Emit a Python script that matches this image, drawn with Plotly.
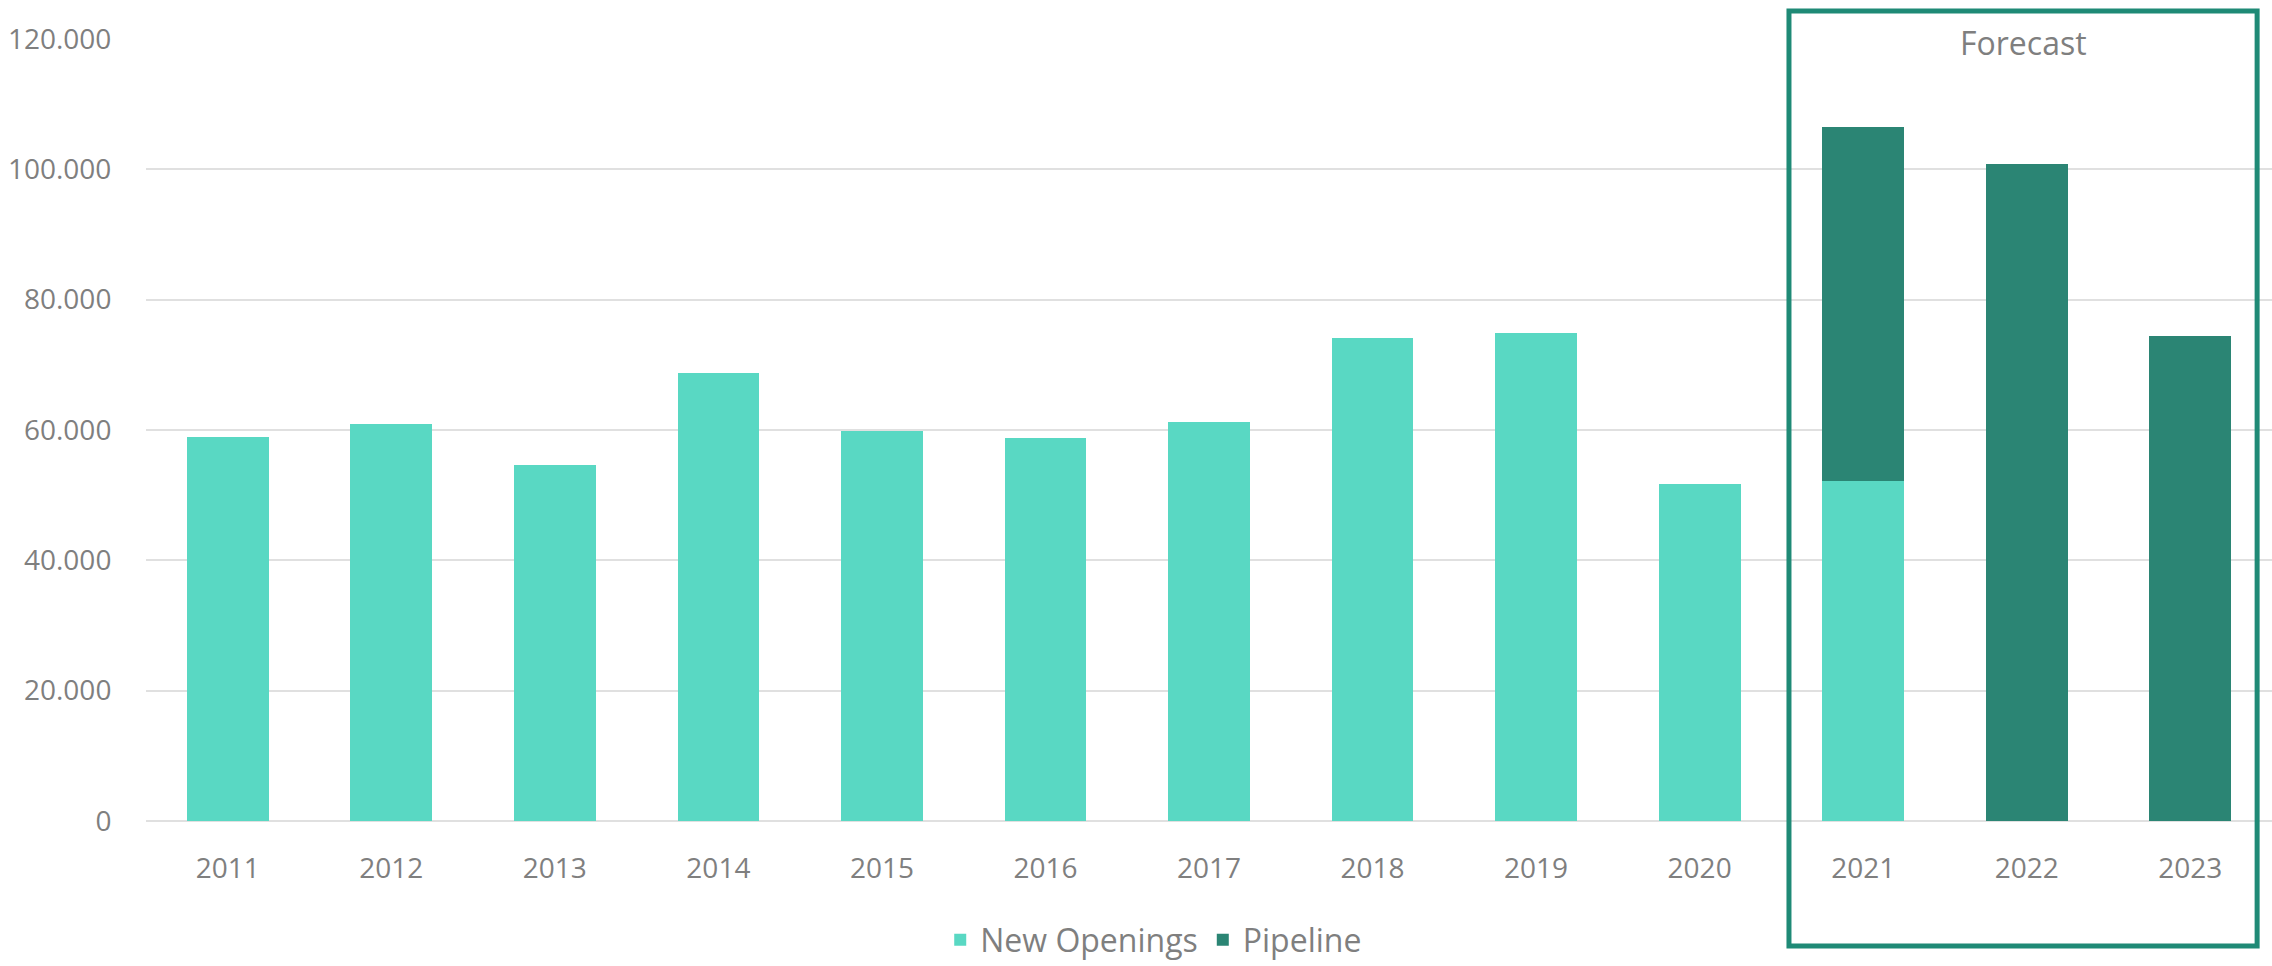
import plotly.graph_objects as go

years = ['2011', '2012', '2013', '2014', '2015', '2016', '2017',
         '2018', '2019', '2020', '2021', '2022', '2023']
new_openings = [59000, 60900, 54600, 68700, 59800, 58700, 61300,
                74100, 74900, 51700, 52200, None, None]
pipeline = [None, None, None, None, None, None, None,
            None, None, None, 54300, 100800, 74400]

light_teal = '#59d8c3'
dark_teal = '#2b8574'
box_green = '#1f8a76'
grey_text = '#7f7f7f'

fig = go.Figure()

fig.add_trace(go.Bar(x=years, y=new_openings, name='New Openings',
                     marker=dict(color=light_teal, line=dict(width=0))))
fig.add_trace(go.Bar(x=years, y=pipeline, name='Pipeline',
                     marker=dict(color=dark_teal, line=dict(width=0))))

# forecast frame around 2021-2023
fig.add_shape(type='rect', xref='paper', yref='paper',
              x0=0.7728, x1=0.9930, y0=-0.1598, y1=1.0358,
              line=dict(color=box_green, width=5), layer='above')

fig.add_annotation(text='Forecast', xref='paper', yref='paper',
                   x=0.883, y=0.995, xanchor='center', yanchor='middle',
                   showarrow=False,
                   font=dict(size=32, color=grey_text))

fig.update_layout(
    width=2272, height=966,
    barmode='stack', bargap=0.5,
    separators=',.',
    plot_bgcolor='white', paper_bgcolor='white',
    font=dict(family='Open Sans', color=grey_text),
    margin=dict(l=146, r=0, t=39, b=145, autoexpand=False),
    showlegend=True,
    legend=dict(orientation='h', xanchor='center', yanchor='middle',
                x=0.474, y=-0.152, font=dict(size=32, color=grey_text),
                traceorder='normal'),
    xaxis=dict(range=[-0.5, 12.5],
               tickfont=dict(size=28, color=grey_text), showgrid=False,
               showline=False, ticks='outside', ticklen=22,
               tickcolor='rgba(0,0,0,0)'),
    yaxis=dict(range=[0, 120000], dtick=20000, tickformat=',d',
               tickfont=dict(size=28, color=grey_text),
               gridcolor='#e0e0e0', gridwidth=1.5,
               zeroline=True, zerolinecolor='#e0e0e0', zerolinewidth=1.5,
               showline=False, ticks='outside', ticklen=28,
               tickcolor='rgba(0,0,0,0)'),
)

# drop the default 8px body margin so the figure fills the window exactly
fig.write_html('out.html', config={'displayModeBar': False},
               post_script="document.body.style.margin = '0';")
